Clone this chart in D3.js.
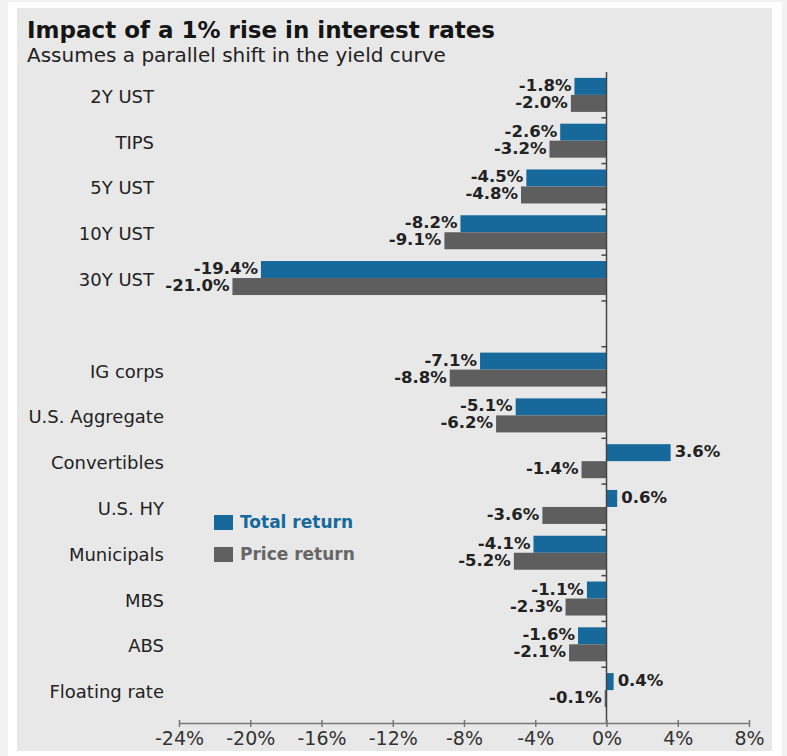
<!DOCTYPE html>
<html>
<head>
<meta charset="utf-8">
<script src="https://cdn.jsdelivr.net/npm/d3@7"></script>
<style>
  body { margin: 0; background: #f2f2f2; font-family: "DejaVu Sans", sans-serif; }
  svg { display: block; }
</style>
</head>
<body>
<svg id="chart" width="787" height="756"></svg>
<script>
// Categories (the empty slot separates treasuries from the other sectors)
const categories = ['2Y UST', 'TIPS', '5Y UST', '10Y UST', '30Y UST', 'gap',
  'IG corps', 'U.S. Aggregate', 'Convertibles', 'U.S. HY', 'Municipals', 'MBS', 'ABS', 'Floating rate'];
const bonds = ['2Y UST', 'TIPS', '5Y UST', '10Y UST', '30Y UST',
  'IG corps', 'U.S. Aggregate', 'Convertibles', 'U.S. HY', 'Municipals', 'MBS', 'ABS', 'Floating rate'];
const totalReturn = [-1.8, -2.6, -4.5, -8.2, -19.4, -7.1, -5.1, 3.6, 0.6, -4.1, -1.1, -1.6, 0.4];
const priceReturn = [-2.0, -3.2, -4.8, -9.1, -21.0, -8.8, -6.2, -1.4, -3.6, -5.2, -2.3, -2.1, -0.1];
const xTicks = [-24, -20, -16, -12, -8, -4, 0, 4, 8];
const seriesNames = ['Total return', 'Price return'];

const blue = '#17699b';
const gray = '#5e5e5e';
const font = '"DejaVu Sans", sans-serif';

const svg = d3.select('#chart');

// Outer frame + gray panel
svg.append('rect').attr('x', 8).attr('y', 2).attr('width', 774).attr('height', 754).attr('fill', '#fff');
svg.append('rect').attr('x', 17).attr('y', 8).attr('width', 755).attr('height', 743).attr('fill', '#e8e8e8');

// Titles
svg.append('text')
  .attr('x', 27).attr('y', 38)
  .attr('font-size', 23).attr('font-weight', 'bold').attr('fill', '#151515')
  .text('Impact of a 1% rise in interest rates');
svg.append('text')
  .attr('x', 27).attr('y', 62)
  .attr('font-size', 20).attr('fill', '#222')
  .text('Assumes a parallel shift in the yield curve');

// Scales
const x = d3.scaleLinear().domain([-24, 8]).range([179, 749]);
const y = d3.scaleBand().domain(categories).range([72, 713]).padding(0);
const barH = 17;
const fmt = v => d3.format('.1f')(v).replace('\u2212', '-') + '%';
const gapIndex = categories.indexOf('gap');

const data = bonds.map((name, i) => ({ name, total: totalReturn[i], price: priceReturn[i] }));

const g = svg.append('g');

// Category labels (treasury block sits a little further left in the original)
g.selectAll('.cat')
  .data(bonds)
  .join('text')
  .attr('class', 'cat')
  .attr('x', d => categories.indexOf(d) < gapIndex ? 154 : 164)
  .attr('y', d => y(d) + y.bandwidth() / 2 + 3)
  .attr('text-anchor', 'end')
  .attr('dominant-baseline', 'middle')
  .attr('font-size', 18)
  .attr('fill', '#222')
  .text(d => d);

// Bars
function drawSeries(key, color, offset) {
  g.selectAll('.bar-' + key)
    .data(data)
    .join('rect')
    .attr('class', 'bar-' + key)
    .attr('x', d => x(Math.min(0, d[key])))
    .attr('y', d => y(d.name) + y.bandwidth() / 2 + offset)
    .attr('width', d => Math.abs(x(d[key]) - x(0)))
    .attr('height', barH)
    .attr('fill', color);

  g.selectAll('.lbl-' + key)
    .data(data)
    .join('text')
    .attr('class', 'lbl-' + key)
    .attr('x', d => d[key] < 0 ? x(d[key]) - 3 : x(d[key]) + 4)
    .attr('y', d => y(d.name) + y.bandwidth() / 2 + offset + barH / 2)
    .attr('text-anchor', d => d[key] < 0 ? 'end' : 'start')
    .attr('dominant-baseline', 'middle')
    .attr('font-size', 16.5)
    .attr('font-weight', 'bold')
    .attr('fill', '#222')
    .text(d => fmt(d[key]));
}
drawSeries('total', blue, -barH);
drawSeries('price', gray, 0);

// Zero line with small category ticks
g.append('line')
  .attr('x1', x(0)).attr('x2', x(0))
  .attr('y1', 72).attr('y2', 723)
  .attr('stroke', '#444').attr('stroke-width', 1.5);
g.selectAll('.ztick')
  .data(categories.slice(1))
  .join('line')
  .attr('class', 'ztick')
  .attr('x1', x(0) - 5).attr('x2', x(0))
  .attr('y1', d => y(d)).attr('y2', d => y(d))
  .attr('stroke', '#444').attr('stroke-width', 1.5);

// X axis
const xAxis = g.append('g')
  .attr('transform', 'translate(0,723)')
  .call(d3.axisBottom(x).tickValues(xTicks).tickFormat(d => d + '%').tickSize(4).tickSizeOuter(0));
xAxis.select('.domain').attr('stroke', '#777').attr('stroke-width', 1.5);
xAxis.selectAll('.tick line').attr('stroke', '#777').attr('stroke-width', 1.5).attr('y1', -3);
xAxis.selectAll('.tick text')
  .attr('font-size', 19)
  .attr('font-family', font)
  .attr('fill', '#333')
  .attr('y', 9);

// Legend
const legend = g.append('g').attr('transform', 'translate(214,515)');
const legendColors = [blue, '#606060'];
const legendText = [blue, '#666'];
seriesNames.forEach((name, i) => {
  legend.append('rect')
    .attr('x', 0).attr('y', i * 32)
    .attr('width', 19).attr('height', 15)
    .attr('fill', legendColors[i]);
  legend.append('text')
    .attr('x', 26).attr('y', i * 32 + 8)
    .attr('dominant-baseline', 'middle')
    .attr('font-size', 17).attr('font-weight', 'bold')
    .attr('fill', legendText[i])
    .text(name);
});
</script>
</body>
</html>
